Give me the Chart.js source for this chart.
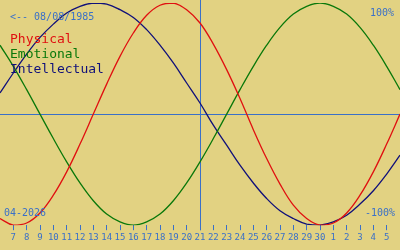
<!DOCTYPE html>
<html>
<head>
<meta charset="utf-8">
<script src="https://cdn.jsdelivr.net/npm/chart.js@4"></script>
<style>
  html, body { margin: 0; padding: 0; background: #e2d282; }
  #wrap { width: 400px; height: 250px; }
</style>
</head>
<body>
<div id="wrap"><canvas id="bio"></canvas></div>
<script>
// Days on the x axis (April 2026, 31+ = May)
const days = [6, 7, 8, 9, 10, 11, 12, 13, 14, 15, 16, 17, 18, 19, 20, 21,
              22, 23, 24, 25, 26, 27, 28, 29, 30, 31, 32, 33, 34, 35, 36];

// Cycle values in percent
const physical = [-94, -100, -98, -89, -73, -52, -27, 0, 27, 52, 73, 89, 98, 100, 94, 82,
                  63, 40, 14, -14, -40, -63, -82, -94, -100, -98, -89, -73, -52, -27, 0];
const emotional = [62, 43, 22, 0, -22, -43, -62, -78, -90, -97, -100, -97, -90, -78, -62, -43,
                   -22, 0, 22, 43, 62, 78, 90, 97, 100, 97, 90, 78, 62, 43, 22];
const intellectual = [19, 37, 54, 69, 81, 91, 97, 100, 99, 94, 87, 76, 62, 46, 28, 10,
                      -10, -28, -46, -62, -76, -87, -94, -99, -100, -97, -91, -81, -69, -54, -37];

// Tick positions and their labels
const tickDays = [7, 8, 9, 10, 11, 12, 13, 14, 15, 16, 17, 18, 19, 20, 21, 22, 23, 24,
                  25, 26, 27, 28, 29, 30, 31, 32, 33, 34, 35];
const tickLabels = ["7", "8", "9", "10", "11", "12", "13", "14", "15", "16", "17", "18", "19",
                    "20", "21", "22", "23", "24", "25", "26", "27", "28", "29", "30",
                    "1", "2", "3", "4", "5"];

const today = 21;
const birthText = "<-- 08/08/1985";
const monthText = "04-2026";

const BG = "#e2d282";
const BLUE = "#3a70c8";
const MONO = "'DejaVu Sans Mono', monospace";

function toPoints(values) {
    return days.map((d, i) => ({ x: d, y: values[i] }));
}

// Background, reference lines and texts
const bioDecor = {
    id: "bioDecor",
    beforeDraw(chart) {
        const c = chart.ctx;
        c.save();
        c.fillStyle = BG;
        c.fillRect(0, 0, chart.width, chart.height);
        c.restore();
    },
    beforeDatasetsDraw(chart) {
        const c = chart.ctx;
        const xs = chart.scales.x, ys = chart.scales.y;
        const area = chart.chartArea;
        c.save();
        c.strokeStyle = BLUE;
        c.lineWidth = 1;
        const y0 = Math.round(ys.getPixelForValue(0)) + 0.5;
        c.beginPath();
        c.moveTo(area.left, y0);
        c.lineTo(area.right, y0);
        c.stroke();
        const xt = Math.round(xs.getPixelForValue(today)) + 0.5;
        c.beginPath();
        c.moveTo(xt, 0);
        c.lineTo(xt, area.bottom + 5);
        c.stroke();
        c.restore();
    },
    afterDraw(chart) {
        const c = chart.ctx;
        c.save();
        c.textBaseline = "alphabetic";
        c.font = "10px " + MONO;
        c.fillStyle = BLUE;
        c.textAlign = "left";
        c.fillText(birthText, 10, 20);
        c.fillText(monthText, 4, 216);
        c.textAlign = "right";
        c.fillText("100%", 394, 16);
        c.fillText("-100%", 395, 216);
        c.textAlign = "left";
        c.font = "13px " + MONO;
        chart.data.datasets.forEach((ds, i) => {
            c.fillStyle = ds.borderColor;
            c.fillText(ds.label, 10, 43 + i * 15);
        });
        c.restore();
    }
};

new Chart(document.getElementById("bio"), {
    type: "line",
    data: {
        datasets: [
            { label: "Physical", data: toPoints(physical), borderColor: "#e01010" },
            { label: "Emotional", data: toPoints(emotional), borderColor: "#0a780a" },
            { label: "Intellectual", data: toPoints(intellectual), borderColor: "#10107a" }
        ]
    },
    options: {
        responsive: true,
        maintainAspectRatio: false,
        animation: false,
        layout: { padding: { top: 3, bottom: 5, left: 0, right: 0 } },
        elements: {
            line: { borderWidth: 1.3, tension: 0.4 },
            point: { radius: 0 }
        },
        plugins: {
            legend: { display: false },
            tooltip: { enabled: false }
        },
        scales: {
            x: {
                type: "linear",
                min: 6,
                max: 36,
                afterBuildTicks(scale) {
                    scale.ticks = tickDays.map(v => ({ value: v }));
                },
                ticks: {
                    autoSkip: false,
                    maxRotation: 0,
                    padding: 2,
                    color: BLUE,
                    font: { family: MONO, size: 9 },
                    callback: (v) => tickLabels[tickDays.indexOf(v)]
                },
                grid: {
                    drawOnChartArea: false,
                    tickLength: 5,
                    tickColor: BLUE,
                    tickWidth: 1
                },
                border: { display: false }
            },
            y: {
                display: false,
                min: -100,
                max: 100
            }
        }
    },
    plugins: [bioDecor]
});
</script>
</body>
</html>
